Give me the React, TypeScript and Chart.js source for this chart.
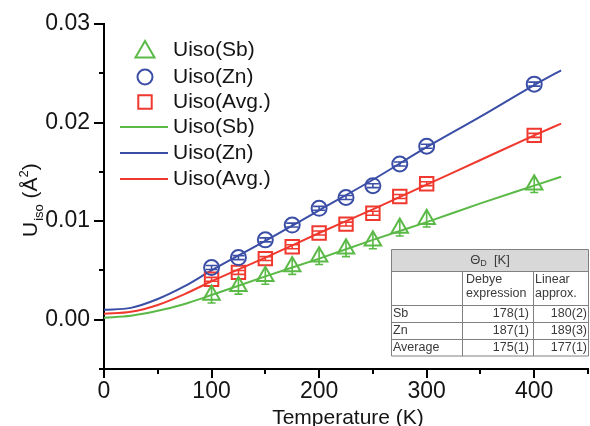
import React, { useEffect, useRef } from 'react';
import { Chart, registerables } from 'chart.js';

Chart.register(...registerables);

// ---- Data ----
const temps = [100, 125, 150, 175, 200, 225, 250, 275, 300, 400];
const uSb = [0.0025, 0.0034, 0.0044, 0.0054, 0.0064, 0.0072, 0.008, 0.0093, 0.0102, 0.0137];
const uZn = [0.0053, 0.0063, 0.0081, 0.0096, 0.0113, 0.0124, 0.0136, 0.0158, 0.0176, 0.0239];
const uAvg = [0.0041, 0.0048, 0.0062, 0.0074, 0.0088, 0.0097, 0.0108, 0.0125, 0.0138, 0.0187];
const errSb = [0.0008, 0.0008, 0.0008, 0.0008, 0.0008, 0.0008, 0.0008, 0.0008, 0.0008, 0.0008];
const errZn = [0.0002, 0.0002, 0.0002, 0.0002, 0.0002, 0.0002, 0.0002, 0.0002, 0.0002, 0.0002];
const errAvg = [0.0002, 0.0002, 0.0002, 0.0002, 0.0002, 0.0002, 0.0002, 0.0002, 0.0002, 0.0002];

const fitT = [0, 25, 50, 75, 100, 150, 200, 250, 300, 350, 400, 425];
const fitSb = [0.0002, 0.0004, 0.0009, 0.0016, 0.0025, 0.0044, 0.0062, 0.0081, 0.0099, 0.0118, 0.0136, 0.0145];
const fitZn = [0.001, 0.0012, 0.0021, 0.0034, 0.005, 0.008, 0.0111, 0.0142, 0.0175, 0.0206, 0.0238, 0.0253];
const fitAvg = [0.0006, 0.0008, 0.0015, 0.0026, 0.0039, 0.0063, 0.0088, 0.0112, 0.0137, 0.0162, 0.0187, 0.0199];

const seriesLabels = ['Uiso(Sb)', 'Uiso(Zn)', 'Uiso(Avg.)'];
const xTickLabels = [0, 100, 200, 300, 400];
const yTickLabels = [0, 0.01, 0.02, 0.03];

const tableRows = ['Sb', 'Zn', 'Average'];
const debyeVals = ['178(1)', '187(1)', '175(1)'];
const linearVals = ['180(2)', '189(3)', '177(1)'];

const GREEN = '#5bb947';
const BLUE = '#3b4ea6';
const RED = '#f0392e';
const FONT = "'Liberation Sans', Arial, sans-serif";
const TXT = '#141414';

const pts = (xs: number[], ys: number[]) => xs.map((x, i) => ({ x, y: ys[i] }));

function drawSymbol(ctx: CanvasRenderingContext2D, style: string, x: number, y: number, r: number) {
  ctx.beginPath();
  if (style === 'triangle') {
    let rad = 0;
    ctx.moveTo(x + Math.sin(rad) * r, y - Math.cos(rad) * r);
    rad += (2 * Math.PI) / 3;
    ctx.lineTo(x + Math.sin(rad) * r, y - Math.cos(rad) * r);
    rad += (2 * Math.PI) / 3;
    ctx.lineTo(x + Math.sin(rad) * r, y - Math.cos(rad) * r);
    ctx.closePath();
  } else if (style === 'circle') {
    ctx.arc(x, y, r, 0, Math.PI * 2);
  } else {
    const s = Math.SQRT1_2 * r;
    ctx.rect(x - s, y - s, 2 * s, 2 * s);
  }
  ctx.stroke();
}

const customPlugin = {
  id: 'customDeco',
  afterDatasetsDraw(chart: any) {
    const ctx = chart.ctx as CanvasRenderingContext2D;
    const ys = chart.scales.y;
    const errs = [errSb, errZn, errAvg];
    const vals = [uSb, uZn, uAvg];
    const cols = [GREEN, BLUE, RED];
    const caps = [0, 6, 6];
    ctx.save();
    for (let d = 0; d < 3; d++) {
      const meta = chart.getDatasetMeta(d);
      ctx.strokeStyle = cols[d];
      ctx.lineWidth = 1.6;
      meta.data.forEach((el: any, i: number) => {
        const yt = ys.getPixelForValue(vals[d][i] + errs[d][i]);
        const yb = ys.getPixelForValue(vals[d][i] - errs[d][i]);
        ctx.beginPath();
        ctx.moveTo(el.x, yt);
        ctx.lineTo(el.x, yb);
        if (caps[d] > 0) {
          ctx.moveTo(el.x - caps[d], yt);
          ctx.lineTo(el.x + caps[d], yt);
          ctx.moveTo(el.x - caps[d], yb);
          ctx.lineTo(el.x + caps[d], yb);
        } else {
          ctx.moveTo(el.x - 4, yb);
          ctx.lineTo(el.x + 4, yb);
        }
        ctx.stroke();
      });
    }
    ctx.restore();
  },
  afterDraw(chart: any) {
    const ctx = chart.ctx as CanvasRenderingContext2D;
    const xs = chart.scales.x;
    const ys = chart.scales.y;
    const area = chart.chartArea;
    ctx.save();

    // axis ticks (major/minor)
    ctx.strokeStyle = '#000';
    ctx.lineWidth = 2;
    xs.ticks.forEach((t: any) => {
      const px = Math.round(xs.getPixelForValue(t.value));
      const major = xTickLabels.includes(Math.round(t.value));
      ctx.beginPath();
      ctx.moveTo(px, area.bottom);
      ctx.lineTo(px, area.bottom + (major ? 9 : 5));
      ctx.stroke();
    });
    ys.ticks.forEach((t: any) => {
      const py = Math.round(ys.getPixelForValue(t.value));
      const major = yTickLabels.some((v) => Math.abs(v - t.value) < 1e-6);
      ctx.beginPath();
      ctx.moveTo(area.left, py);
      ctx.lineTo(area.left - (major ? 10 : 5), py);
      ctx.stroke();
    });

    // x title
    ctx.fillStyle = TXT;
    ctx.font = `21px ${FONT}`;
    ctx.textAlign = 'center';
    ctx.textBaseline = 'alphabetic';
    ctx.fillText('Temperature (K)', 348, 423.5);

    // y title (rotated, with sub/superscript)
    ctx.save();
    ctx.translate(37, 237);
    ctx.rotate(-Math.PI / 2);
    ctx.textAlign = 'left';
    let cx = 0;
    ctx.font = `21px ${FONT}`;
    ctx.fillText('U', cx, 0);
    cx += ctx.measureText('U').width + 1;
    ctx.font = `13px ${FONT}`;
    ctx.fillText('iso', cx, 6);
    cx += ctx.measureText('iso').width;
    ctx.font = `21px ${FONT}`;
    ctx.fillText(' (\u00C5', cx, 0);
    cx += ctx.measureText(' (\u00C5').width;
    ctx.font = `13px ${FONT}`;
    ctx.fillText('2', cx, -9);
    cx += ctx.measureText('2').width;
    ctx.font = `21px ${FONT}`;
    ctx.fillText(')', cx, 0);
    ctx.restore();

    // legend
    const rows = [50, 77, 102, 127, 153, 179];
    const styles = ['triangle', 'circle', 'rect'];
    const symR = [11, 7.5, 9.5];
    const cols = [GREEN, BLUE, RED];
    ctx.textAlign = 'left';
    ctx.textBaseline = 'middle';
    ctx.font = `21px ${FONT}`;
    for (let i = 0; i < 3; i++) {
      ctx.strokeStyle = cols[i];
      ctx.lineWidth = 2;
      drawSymbol(ctx, styles[i], 145, rows[i] + (i === 0 ? 2 : 0), symR[i]);
      ctx.fillStyle = TXT;
      ctx.fillText(seriesLabels[i], 173, rows[i]);
    }
    for (let i = 0; i < 3; i++) {
      const y = rows[i + 3];
      ctx.strokeStyle = cols[i];
      ctx.lineWidth = 2;
      ctx.beginPath();
      ctx.moveTo(120, y);
      ctx.lineTo(168, y);
      ctx.stroke();
      ctx.fillStyle = TXT;
      ctx.fillText(seriesLabels[i], 173, y);
    }

    // table
    const L = 391, R = 589, C1 = 462, C2 = 533;
    const rl = [249.5, 271, 305, 322, 339, 356];
    ctx.fillStyle = '#ffffff';
    ctx.fillRect(L, rl[0], R - L, rl[5] - rl[0]);
    ctx.fillStyle = '#d8d8d8';
    ctx.fillRect(L, rl[0], R - L, rl[1] - rl[0]);
    ctx.strokeStyle = '#808080';
    ctx.lineWidth = 1;
    ctx.beginPath();
    ctx.rect(L + 0.5, rl[0], R - L - 1, rl[5] - rl[0]);
    for (let i = 1; i < 5; i++) {
      ctx.moveTo(L, Math.round(rl[i]) + 0.5);
      ctx.lineTo(R, Math.round(rl[i]) + 0.5);
    }
    ctx.moveTo(C1 + 0.5, rl[1]);
    ctx.lineTo(C1 + 0.5, rl[5]);
    ctx.moveTo(C2 + 0.5, rl[1]);
    ctx.lineTo(C2 + 0.5, rl[5]);
    ctx.stroke();

    ctx.fillStyle = '#3a3a3a';
    ctx.textBaseline = 'middle';
    // header
    ctx.font = `13px ${FONT}`;
    const thW = ctx.measureText('\u0398').width;
    ctx.font = `9px ${FONT}`;
    const dW = ctx.measureText('D').width;
    ctx.font = `13px ${FONT}`;
    const kW = ctx.measureText('  [K]').width;
    let hx = (L + R) / 2 - (thW + dW + kW) / 2;
    ctx.textAlign = 'left';
    ctx.fillText('\u0398', hx, 260.5);
    hx += thW;
    ctx.font = `9px ${FONT}`;
    ctx.fillText('D', hx, 264);
    hx += dW;
    ctx.font = `13px ${FONT}`;
    ctx.fillText('  [K]', hx, 260.5);

    ctx.font = `12.5px ${FONT}`;
    ctx.fillText('Debye', 466, 280);
    ctx.fillText('expression', 466, 293.5);
    ctx.fillText('Linear', 535, 280);
    ctx.fillText('approx.', 535, 293.5);
    for (let i = 0; i < tableRows.length; i++) {
      const cy = (rl[i + 2] + rl[i + 3]) / 2 + 0.5;
      ctx.textAlign = 'left';
      ctx.fillText(tableRows[i], 393, cy);
      ctx.textAlign = 'right';
      ctx.fillText(debyeVals[i], 529, cy);
      ctx.fillText(linearVals[i], 587, cy);
    }
    ctx.restore();
  },
};

export default function App() {
  const ref = useRef<HTMLCanvasElement | null>(null);
  useEffect(() => {
    if (!ref.current) return;
    const chart = new Chart(ref.current, {
      type: 'scatter',
      data: {
        datasets: [
          {
            label: seriesLabels[0],
            data: pts(temps, uSb),
            pointStyle: 'triangle',
            pointRadius: 9.5,
            pointBorderWidth: 2,
            pointBackgroundColor: 'rgba(0,0,0,0)',
            pointBorderColor: GREEN,
            borderColor: GREEN,
            showLine: false,
          },
          {
            label: seriesLabels[1],
            data: pts(temps, uZn),
            pointStyle: 'circle',
            pointRadius: 7.5,
            pointBorderWidth: 2,
            pointBackgroundColor: 'rgba(0,0,0,0)',
            pointBorderColor: BLUE,
            borderColor: BLUE,
            showLine: false,
          },
          {
            label: seriesLabels[2],
            data: pts(temps, uAvg),
            pointStyle: 'rect',
            pointRadius: 9.5,
            pointBorderWidth: 2,
            pointBackgroundColor: 'rgba(0,0,0,0)',
            pointBorderColor: RED,
            borderColor: RED,
            showLine: false,
          },
          {
            label: seriesLabels[0] + ' fit',
            data: pts(fitT, fitSb),
            showLine: true,
            pointRadius: 0,
            borderColor: GREEN,
            borderWidth: 2,
            cubicInterpolationMode: 'monotone',
          },
          {
            label: seriesLabels[1] + ' fit',
            data: pts(fitT, fitZn),
            showLine: true,
            pointRadius: 0,
            borderColor: BLUE,
            borderWidth: 2,
            cubicInterpolationMode: 'monotone',
          },
          {
            label: seriesLabels[2] + ' fit',
            data: pts(fitT, fitAvg),
            showLine: true,
            pointRadius: 0,
            borderColor: RED,
            borderWidth: 2,
            cubicInterpolationMode: 'monotone',
          },
        ] as any,
      },
      options: {
        responsive: false,
        animation: false,
        devicePixelRatio: 1,
        layout: { autoPadding: false, padding: { top: 24, right: 2, left: 0, bottom: 0 } },
        plugins: { legend: { display: false }, tooltip: { enabled: false } },
        scales: {
          x: {
            type: 'linear',
            min: 0,
            max: 450,
            afterFit: (s: any) => {
              s.height = 57;
            },
            grid: { display: false, drawTicks: false },
            border: { display: true, color: '#000', width: 2 },
            ticks: {
              stepSize: 50,
              autoSkip: false,
              maxRotation: 0,
              padding: 0,
              color: TXT,
              font: { size: 23, family: FONT, lineHeight: 2.0 },
              callback: (v: any) => (xTickLabels.includes(Math.round(Number(v))) ? String(Math.round(Number(v))) : ''),
            },
          },
          y: {
            type: 'linear',
            min: -0.005,
            max: 0.03,
            afterFit: (s: any) => {
              s.width = 104;
              s.paddingTop = 0;
              s.paddingBottom = 0;
            },
            grid: { display: false, drawTicks: false },
            border: { display: true, color: '#000', width: 2 },
            ticks: {
              stepSize: 0.005,
              autoSkip: false,
              padding: 14,
              color: TXT,
              font: { size: 23, family: FONT },
              callback: (v: any) => {
                const n = Number(v);
                const hit = yTickLabels.find((t) => Math.abs(t - n) < 1e-6);
                return hit !== undefined ? hit.toFixed(2) : '';
              },
            },
          },
        },
      } as any,
      plugins: [customPlugin],
    });
    return () => chart.destroy();
  }, []);
  return (
    <div style={{ position: 'fixed', left: 0, top: 0, width: 590, height: 426, background: '#fff' }}>
      <canvas ref={ref} width={590} height={426} style={{ width: 590, height: 426, display: 'block' }} />
    </div>
  );
}
